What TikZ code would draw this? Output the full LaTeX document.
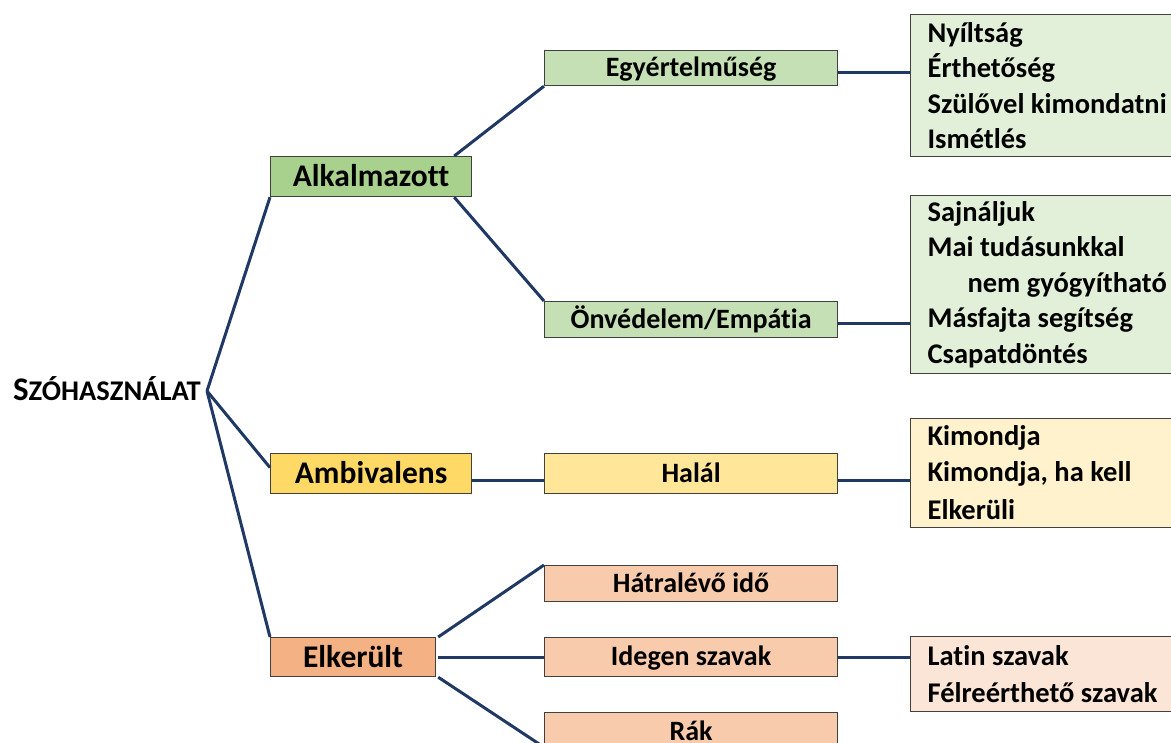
\documentclass[tikz,border=0pt]{standalone}
\usepackage{fontspec}
\setmainfont{Carlito}[Ligatures=NoCommon]
\usepackage{tikz}
\definecolor{navy}{HTML}{1F3864}
\definecolor{alkgreen}{HTML}{A9D18E}
\definecolor{midgreen}{HTML}{C5E0B4}
\definecolor{lightgreen}{HTML}{E2F0D9}
\definecolor{ambyellow}{HTML}{FFD966}
\definecolor{midyellow}{HTML}{FFE699}
\definecolor{lightyellow}{HTML}{FFF2CC}
\definecolor{elkorange}{HTML}{F4B183}
\definecolor{midorange}{HTML}{F8CBAD}
\definecolor{lightorange}{HTML}{FBE5D6}

\begin{document}
\begin{tikzpicture}[x=1pt,y=-1pt,
  box/.style={draw=black!75,line width=1.2pt,anchor=north west,inner sep=0pt},
  lvlone/.style={box,minimum width=201pt,minimum height=40pt,text height=20pt,text depth=0pt,
    font=\fontsize{31.5}{33}\selectfont\bfseries},
  lvltwo/.style={box,minimum width=293pt,minimum height=36pt,text height=17pt,text depth=0pt,
    font=\fontsize{28}{30}\selectfont\bfseries},
  listbox/.style={box,minimum width=270pt,text width=262pt,inner xsep=17pt,align=flush left,
    font=\fontsize{28.5}{35.5}\selectfont\bfseries},
  conn/.style={draw=navy,line width=3pt}]
\useasboundingbox (0,0) rectangle (1171,743);
\clip (0,0) rectangle (1171,743);

% root
\node[anchor=base east,inner sep=0pt,font=\bfseries] (root) at (201,401)
  {{\fontsize{33}{35}\selectfont S}\fontsize{28.5}{30}\selectfont ZÓHASZNÁLAT};
\coordinate (hub) at (207,391);

% first level
\node[lvlone,fill=alkgreen] (alk) at (270,156) {Alkalmazott};
\node[lvlone,fill=ambyellow] (amb) at (270,453) {Ambivalens};
\node[lvlone,fill=elkorange,minimum width=165pt,minimum height=39pt] (elk) at (270,637) {Elkerült};

% second level
\node[lvltwo,fill=midgreen,minimum height=35pt] (egy) at (544,50) {Egyértelműség};
\node[lvltwo,fill=midgreen] (onv) at (544,301) {Önvédelem/Empátia};
\node[lvltwo,fill=midyellow,minimum height=40pt] (hal) at (544,453) {Halál};
\node[lvltwo,fill=midorange] (hat) at (544,565) {Hátralévő idő};
\node[lvltwo,fill=midorange,minimum height=39pt] (idg) at (544,637) {Idegen szavak};
\node[lvltwo,fill=midorange,minimum height=38pt] (rak) at (544,712) {Rák};

% lists
\node[listbox,fill=lightgreen,minimum height=142pt] (lsta) at (910,14)
  {Nyíltság\\Érthetőség\\Szülővel kimondatni\\Ismétlés};
\node[listbox,fill=lightgreen,minimum height=178pt] (lstb) at (910,195)
  {Sajnáljuk\\Mai tudásunkkal\\\hspace*{40pt}nem gyógyítható\\Másfajta segítség\\Csapatdöntés};
\node[listbox,fill=lightyellow,minimum height=109pt] (lstc) at (910,418)
  {Kimondja\\Kimondja, ha kell\\[3pt]Elkerüli};
\node[listbox,fill=lightorange,minimum height=75pt] (lstd) at (910,636)
  {Latin szavak\\[2pt]Félreérthető szavak};

% connectors
\draw[conn] (hub) -- (alk.south west);
\draw[conn] (hub) -- ([yshift=6pt]amb.west);
\draw[conn] (hub) -- (elk.north west);
\draw[conn] ([xshift=-18pt]alk.north east) -- (egy.south west);
\draw[conn] ([xshift=-18pt]alk.south east) -- (onv.north west);
\draw[conn] ([yshift=-4pt]egy.east) -- ([yshift=-4pt]egy.east -| lsta.west);
\draw[conn] ([yshift=-4pt]onv.east) -- ([yshift=-4pt]onv.east -| lstb.west);
\draw[conn] ([yshift=-7pt]amb.east) -- ([yshift=-7pt]hal.west);
\draw[conn] ([yshift=-7pt]hal.east) -- ([yshift=-7pt]hal.east -| lstc.west);
\draw[conn] ([xshift=2pt]elk.north east) -- (hat.north west);
\draw[conn] ([xshift=2pt]elk.east) -- (idg.west);
\draw[conn] ([xshift=2pt]elk.south east) -- ([yshift=4pt]rak.south west);
\draw[conn] (idg.east) -- (idg.east -| lstd.west);
\end{tikzpicture}
\end{document}
